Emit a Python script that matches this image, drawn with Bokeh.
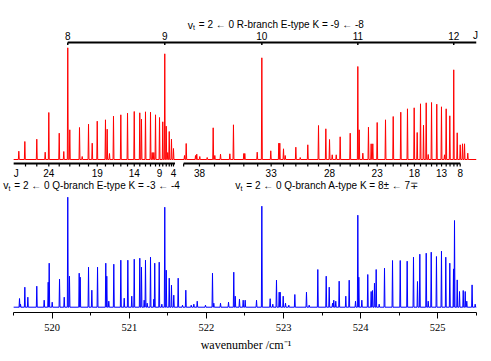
from bokeh.plotting import figure
from bokeh.models import Range1d, FixedTicker
from bokeh.core.properties import value
from bokeh.embed import file_html
from bokeh.resources import INLINE

# ---------------- data ----------------
# calculated spectrum (red): line positions / cm-1 and relative intensities
calc_pos = [519.567, 519.645, 519.800, 519.909, 519.956, 520.091, 520.150, 520.202, 520.228, 520.354,
            520.389, 520.471, 520.519, 520.584, 520.691, 520.713, 520.743, 520.795, 520.890, 520.977,
            521.064, 521.136, 521.158, 521.210, 521.275, 521.297, 521.318, 521.340, 521.392, 521.434,
            521.460, 521.479, 521.499, 521.518, 521.547, 521.573, 521.716, 521.738, 521.859, 521.875,
            521.914, 522.010, 522.088, 522.109, 522.183, 522.304, 522.351, 522.485, 522.498, 522.659,
            522.719, 522.835, 522.939, 522.952, 523.000, 523.022, 523.160, 523.217, 523.315, 523.454,
            523.549, 523.597, 523.632, 523.684, 523.735, 523.865, 523.964, 523.982, 524.029, 524.102,
            524.137, 524.158, 524.215, 524.323, 524.423, 524.521, 524.608, 524.695, 524.734, 524.777,
            524.816, 524.851, 524.877, 524.920, 524.988, 525.049, 525.088, 525.110, 525.157, 525.208,
            525.253, 525.292, 525.322, 525.348, 525.390]
calc_int = [8.3, 18, 20.3, 7.3, 47, 26.3, 8, 111.7, 29.7, 32,
            3, 35.3, 16.3, 38.3, 39.7, 30.3, 6, 43.3, 44.7, 46.3,
            48, 46.7, 40.3, 47.7, 47.3, 7, 7, 44.7, 42, 37.7,
            105.7, 33.3, 7, 28, 20.3, 11, 4, 16, 4, 5.3,
            3, 2, 31.7, 4, 5.3, 5.7, 34.7, 6, 6, 7.3,
            101.7, 8.7, 16.3, 16.3, 10.7, 4, 12.3, 2, 14.7, 34,
            30.7, 20, 4.7, 4.7, 22.7, 26.3, 93, 29.7, 6.3, 32.3,
            15.7, 15.7, 37, 39.7, 43, 47.3, 50.7, 51.7, 27, 55.7,
            34.3, 56.7, 5, 57, 55.3, 52.7, 4.7, 50.7, 43.7, 89.7,
            26.7, 14.7, 15.7, 15.7, 6.3]

# observed spectrum (blue)
obs_pos = [519.576, 519.589, 519.645, 519.684, 519.800, 519.896, 519.948, 519.961, 520.000, 520.095,
           520.156, 520.202, 520.224, 520.350, 520.363, 520.471, 520.514, 520.588, 520.695, 520.708,
           520.734, 520.799, 520.890, 520.934, 520.981, 521.032, 521.064, 521.136, 521.158, 521.193,
           521.210, 521.232, 521.275, 521.318, 521.330, 521.388, 521.422, 521.460, 521.479, 521.518,
           521.547, 521.577, 521.634, 521.690, 521.733, 521.803, 521.837, 521.881, 521.988, 522.079,
           522.096, 522.183, 522.287, 522.355, 522.374, 522.429, 522.477, 522.503, 522.650, 522.719,
           522.827, 522.861, 522.909, 522.944, 522.957, 522.996, 523.026, 523.069, 523.147, 523.298,
           523.333, 523.445, 523.554, 523.593, 523.636, 523.652, 523.678, 523.722, 523.808, 523.852,
           523.934, 523.964, 523.977, 524.016, 524.093, 524.137, 524.154, 524.180, 524.202, 524.241,
           524.310, 524.414, 524.514, 524.604, 524.686, 524.738, 524.768, 524.851, 524.877, 524.916,
           524.984, 525.049, 525.105, 525.157, 525.205, 525.218, 525.253, 525.283, 525.331, 525.357,
           525.377, 525.446, 525.486]
obs_int = [8.7, 3, 20, 10, 21, 7, 25, 44, 5, 28,
           10, 110, 31, 34, 30, 40, 17, 40, 44, 31,
           6, 43, 47, 9, 47, 11, 48, 49, 40, 7,
           47, 4, 50, 8, 44, 45, 3, 100, 37, 29,
           22, 12, 29, 2, 17, 2, 3, 6, 2, 34,
           4, 4, 5, 35, 11, 8, 7, 7, 7, 101,
           8.5, 3, 27, 15, 15, 11, 4, 2, 12.7, 15,
           2, 37.7, 31, 20, 4, 7, 6, 26, 11, 27,
           6, 92, 30, 7, 32.7, 15.7, 16.7, 24, 37.7, 3,
           39, 46.7, 46.7, 46, 50, 25.7, 53, 54, 6, 55,
           50.7, 56, 50, 44, 38.3, 86.7, 27.3, 15.7, 16.7, 15.7,
           6, 22.3, 3]

# R-branch E-type assignment (J and line positions)
r_J = ["8", "9", "10", "11", "12"]
r_pos = [520.202, 521.460, 522.719, 523.964, 525.208]

# Q-branch E-type K = -3 <- -4, J = 26 ... 4
qE_J = list(range(26, 3, -1))
qE_pos = [519.654, 519.800, 519.956, 520.091, 520.228, 520.354, 520.471, 520.584, 520.691, 520.795,
          520.890, 520.977, 521.064, 521.136, 521.210, 521.275, 521.340, 521.392, 521.434, 521.479,
          521.518, 521.547, 521.573]
qE_labels = [24, 19, 14, 9, 4]

# Q-branch A-type K = 8 <- 7, J = 39 ... 8
qA_J = list(range(39, 7, -1))
qA_pos = [521.705, 521.910, 522.105, 522.300, 522.485, 522.665, 522.840, 523.000, 523.160, 523.315,
          523.454, 523.597, 523.735, 523.865, 523.985, 524.102, 524.215, 524.323, 524.423, 524.521,
          524.610, 524.698, 524.777, 524.851, 524.920, 524.988, 525.050, 525.110, 525.160, 525.210,
          525.253, 525.292]
qA_labels = [38, 33, 28, 23, 18, 13, 8]

major_ticks = [520, 521, 522, 523, 524, 525]
minor_ticks = [519.5, 520.5, 521.5, 522.5, 523.5, 524.5, 525.5]
axis_bounds = (519.5, 525.5)

NB = "\u00a0"
title_txt = NB + "= 2 \u2190 0 R-branch E-type K = -9 \u2190 -8"
qE_txt = NB + "= 2 \u2190 0 Q-branch E-type K = -3 \u2190 -4"
qA_txt = NB + "= 2 \u2190 0 Q-branch A-type K = 8\u00b1 \u2190 7\u2213"

# ---------------- layout / styling ----------------
RED_BASE = 153.0
BLUE_BASE = 5.3
HW = 0.006
SANS = value("Liberation Sans")

p = figure(width=491, height=361, x_range=Range1d(519.3294, 525.6978), y_range=Range1d(0, 312),
           output_backend="svg", toolbar_location=None, y_axis_location=None,
           min_border_left=0, min_border_right=0, min_border_top=0, min_border_bottom=49)
p.grid.visible = False
p.outline_line_color = None
p.background_fill_color = "white"

xa = p.xaxis[0]
xa.bounds = axis_bounds
xa.ticker = FixedTicker(ticks=major_ticks, minor_ticks=minor_ticks)
xa.major_tick_in = 0
xa.major_tick_out = 6
xa.minor_tick_in = 0
xa.minor_tick_out = 3
xa.axis_line_color = "black"
xa.major_tick_line_color = "black"
xa.minor_tick_line_color = "black"
xa.major_label_text_font = "Liberation Serif"
xa.major_label_text_font_size = "10.5px"
xa.major_label_text_color = "black"
xa.major_label_standoff = 5
xa.axis_label = "wavenumber /cm\u207b\u00b9"
xa.axis_label_text_font = "Liberation Serif"
xa.axis_label_text_font_style = "normal"
xa.axis_label_text_font_size = "12px"
xa.axis_label_text_color = "black"
xa.axis_label_standoff = 4


def stick_path(pos, inten, base):
    xs = [axis_bounds[0]]
    ys = [base]
    for c, h in sorted(zip(pos, inten)):
        xs += [c - HW, c, c + HW]
        ys += [base, base + h, base]
    xs.append(axis_bounds[1])
    ys.append(base)
    return xs, ys


rx, ry = stick_path(calc_pos, calc_int, RED_BASE)
bx, by = stick_path(obs_pos, obs_int, BLUE_BASE)
p.line(rx, ry, line_color="#ff0000", line_width=1)
p.line(bx, by, line_color="#0000ff", line_width=1)

# ---- R-branch bracket (top) ----
R_Y = 270
p.line([r_pos[0], axis_bounds[1]], [R_Y, R_Y], line_color="black", line_width=2)
p.segment(x0=r_pos, x1=r_pos, y0=[R_Y] * len(r_pos), y1=[R_Y - 2.5] * len(r_pos),
          line_color="black", line_width=1.5)
p.text(x=r_pos + [525.49], y=[277] * (len(r_pos) + 1), text=r_J + ["J"],
       text_font=SANS, text_font_size=value("10px"), text_color="black",
       text_align="center", text_baseline="middle")

# ---- Q-branch brackets ----
Q_Y = 149
p.line([axis_bounds[0], qE_pos[-1] + 0.02], [Q_Y, Q_Y], line_color="black", line_width=2)
p.line([qA_pos[0], qA_pos[-1]], [Q_Y, Q_Y], line_color="black", line_width=2)
allq = qE_pos + qA_pos
p.segment(x0=allq, x1=allq, y0=[Q_Y] * len(allq), y1=[Q_Y - 3] * len(allq),
          line_color="black", line_width=1.2)
lab_x = [qE_pos[qE_J.index(j)] for j in qE_labels] + [qA_pos[qA_J.index(j)] for j in qA_labels]
lab_t = [str(j) for j in qE_labels] + [str(j) for j in qA_labels]
p.text(x=lab_x + [519.533], y=[139.5] * (len(lab_x) + 1), text=lab_t + ["J"],
       text_font=SANS, text_font_size=value("10px"), text_color="black",
       text_align="center", text_baseline="middle")

# ---- band labels: v (subscript t) = ... ----
anchors = [521.826, 519.433, 522.442]
rows = [288, 127.5, 127.5]
texts = [title_txt, qE_txt, qA_txt]
p.text(x=anchors, y=rows, text=["v"] * 3, text_font=SANS, text_font_size=value("10.5px"),
       text_color="black", text_align="right", text_baseline="middle")
p.text(x=anchors, y=rows, text=["t"] * 3, text_font=SANS, text_font_size=value("7px"),
       text_color="black", text_align="left", text_baseline="middle", y_offset=3)
p.text(x=anchors, y=rows, text=texts, text_font=SANS, text_font_size=value("10px"),
       text_color="black", text_align="left", text_baseline="middle", x_offset=3)

open("out.html", "w").write(file_html(p, INLINE))
